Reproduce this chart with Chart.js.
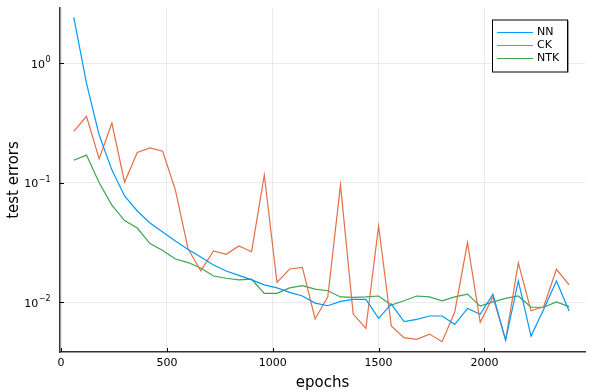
<!DOCTYPE html>
<html>
<head>
<meta charset="utf-8">
<title>test errors</title>
<script src="https://cdn.jsdelivr.net/npm/chart.js@4/dist/chart.umd.min.js"></script>
<style>
  html, body { margin: 0; padding: 0; background: #ffffff; }
  #wrap { width: 594px; height: 392px; }
</style>
</head>
<body>
<div id="wrap"><canvas id="graph" width="594" height="392"></canvas></div>
<script>
  // data
  const epochs = [60, 120, 180, 240, 300, 360, 420, 480, 540, 600,
                  660, 720, 780, 840, 900, 960, 1020, 1080, 1140, 1200,
                  1260, 1320, 1380, 1440, 1500, 1560, 1620, 1680, 1740, 1800,
                  1860, 1920, 1980, 2040, 2100, 2160, 2220, 2280, 2340, 2400];
  const nn = [2.41, 0.68, 0.25, 0.128, 0.0774, 0.058, 0.046, 0.0387, 0.0326, 0.0277,
              0.0239, 0.0205, 0.0183, 0.0168, 0.0154, 0.014, 0.0132, 0.0121, 0.0113, 0.00986,
              0.00937, 0.0102, 0.0106, 0.0106, 0.00735, 0.00968, 0.00689, 0.00721, 0.00769, 0.00769,
              0.00655, 0.0089, 0.00794, 0.0117, 0.00484, 0.0151, 0.00522, 0.00875, 0.0151, 0.00846];
  const ck = [0.269, 0.359, 0.158, 0.315, 0.101, 0.179, 0.195, 0.183, 0.087, 0.028,
              0.0183, 0.0269, 0.0252, 0.0296, 0.0265, 0.116, 0.0147, 0.019, 0.0196, 0.00726,
              0.0111, 0.0957, 0.00798, 0.00607, 0.0435, 0.00634, 0.00507, 0.00491, 0.00543, 0.00469,
              0.00835, 0.0316, 0.0068, 0.0111, 0.00484, 0.0214, 0.0085, 0.00919, 0.0189, 0.014];
  const ntk = [0.154, 0.170, 0.1, 0.065, 0.0483, 0.0418, 0.031, 0.0271, 0.023, 0.0215,
               0.0194, 0.0166, 0.0159, 0.0154, 0.0156, 0.0119, 0.0119, 0.0132, 0.0138, 0.0129,
               0.0125, 0.0111, 0.011, 0.0111, 0.0113, 0.0095, 0.0103, 0.0113, 0.0111, 0.0103,
               0.0111, 0.0117, 0.0093, 0.0101, 0.0108, 0.0113, 0.0091, 0.0091, 0.0101, 0.0092];
  const seriesNames = ['NN', 'CK', 'NTK'];
  const seriesColors = ['#009AFA', '#E26F46', '#3EA44E'];
  const xTicks = [0, 500, 1000, 1500, 2000];
  const yTicks = [0.01, 0.1, 1];
  const yTickExponents = ['\u22122', '\u22121', '0'];

  const fontFamily = "'DejaVu Sans', sans-serif";

  function points(values) {
    return epochs.map(function (e, i) { return { x: e, y: values[i] }; });
  }

  // tick marks inside the frame + "10^n" labels with a raised exponent
  const innerTicks = {
    id: 'innerTicks',
    afterDraw: function (chart) {
      const ctx = chart.ctx;
      const xs = chart.scales.x, ys = chart.scales.y;
      const area = chart.chartArea;
      ctx.save();
      ctx.strokeStyle = '#000000';
      ctx.lineWidth = 1;
      ctx.beginPath();
      xTicks.forEach(function (v) {
        const px = Math.round(xs.getPixelForValue(v)) + 0.5;
        ctx.moveTo(px, area.bottom);
        ctx.lineTo(px, area.bottom - 4);
      });
      yTicks.forEach(function (v) {
        const py = Math.round(ys.getPixelForValue(v)) + 0.5;
        ctx.moveTo(area.left, py);
        ctx.lineTo(area.left + 4, py);
      });
      ctx.stroke();

      ctx.fillStyle = '#000000';
      ctx.textBaseline = 'alphabetic';
      ctx.textAlign = 'left';
      yTicks.forEach(function (v, i) {
        const py = ys.getPixelForValue(v);
        ctx.font = '8px ' + fontFamily;
        const ew = ctx.measureText(yTickExponents[i]).width;
        ctx.font = '11px ' + fontFamily;
        const bw = ctx.measureText('10').width;
        const right = area.left - 10;
        const x0 = right - ew - bw;
        ctx.fillText('10', x0, py + 4.5);
        ctx.font = '8px ' + fontFamily;
        ctx.fillText(yTickExponents[i], x0 + bw + 0.5, py - 1);
      });
      ctx.restore();
    }
  };

  // boxed legend in the upper right corner
  const boxLegend = {
    id: 'boxLegend',
    afterDraw: function (chart) {
      const ctx = chart.ctx;
      const x0 = 492, y0 = 19.5, w = 75, h = 52;
      ctx.save();
      ctx.fillStyle = '#999999';
      ctx.fillRect(x0 + w, y0 + 1, 2, h);
      ctx.fillStyle = '#ffffff';
      ctx.fillRect(x0, y0, w, h);
      ctx.strokeStyle = '#000000';
      ctx.lineWidth = 1;
      ctx.strokeRect(x0 + 0.5, y0 + 0.5, w, h);
      ctx.font = '11px ' + fontFamily;
      ctx.textBaseline = 'middle';
      ctx.textAlign = 'left';
      chart.data.datasets.forEach(function (ds, i) {
        const yy = y0 + 13 + i * 13;
        ctx.strokeStyle = ds.borderColor;
        ctx.beginPath();
        ctx.moveTo(497, yy);
        ctx.lineTo(533, yy);
        ctx.stroke();
        ctx.fillStyle = '#000000';
        ctx.fillText(ds.label, 537, yy);
      });
      ctx.restore();
    }
  };

  const ctx = document.getElementById('graph').getContext('2d');
  new Chart(ctx, {
    type: 'line',
    data: {
      datasets: [
        { label: seriesNames[0], data: points(nn), borderColor: seriesColors[0] },
        { label: seriesNames[1], data: points(ck), borderColor: seriesColors[1] },
        { label: seriesNames[2], data: points(ntk), borderColor: seriesColors[2] }
      ]
    },
    options: {
      responsive: false,
      animation: false,
      events: [],
      elements: {
        line: { borderWidth: 1.2, tension: 0, fill: false },
        point: { radius: 0 }
      },
      layout: { padding: { top: 8, right: 9, left: 0, bottom: 0 } },
      plugins: {
        legend: { display: false },
        tooltip: { enabled: false }
      },
      scales: {
        x: {
          type: 'linear',
          min: -5,
          max: 2475,
          afterBuildTicks: function (scale) {
            scale.ticks = xTicks.map(function (v) { return { value: v }; });
          },
          afterFit: function (scale) { scale.height = 40; },
          grid: { color: 'rgba(0,0,0,0.08)', drawTicks: false },
          border: { color: '#333333', width: 1.5 },
          ticks: {
            padding: 5,
            maxRotation: 0,
            color: '#000000',
            font: { family: fontFamily, size: 11 },
            callback: function (value) { return String(value); }
          },
          title: {
            display: true,
            text: 'epochs',
            color: '#000000',
            padding: { top: 2, bottom: 0 },
            font: { family: fontFamily, size: 15 }
          }
        },
        y: {
          type: 'logarithmic',
          min: 0.003846,
          max: 2.884,
          afterBuildTicks: function (scale) {
            scale.ticks = yTicks.map(function (v) { return { value: v }; });
          },
          afterFit: function (scale) { scale.width = 60; },
          grid: { color: 'rgba(0,0,0,0.08)', drawTicks: false },
          border: { color: '#333333', width: 1.5 },
          ticks: {
            display: false
          },
          title: {
            display: true,
            text: 'test errors',
            color: '#000000',
            padding: { top: 5, bottom: 0 },
            font: { family: fontFamily, size: 15 }
          }
        }
      }
    },
    plugins: [innerTicks, boxLegend]
  });
</script>
</body>
</html>
